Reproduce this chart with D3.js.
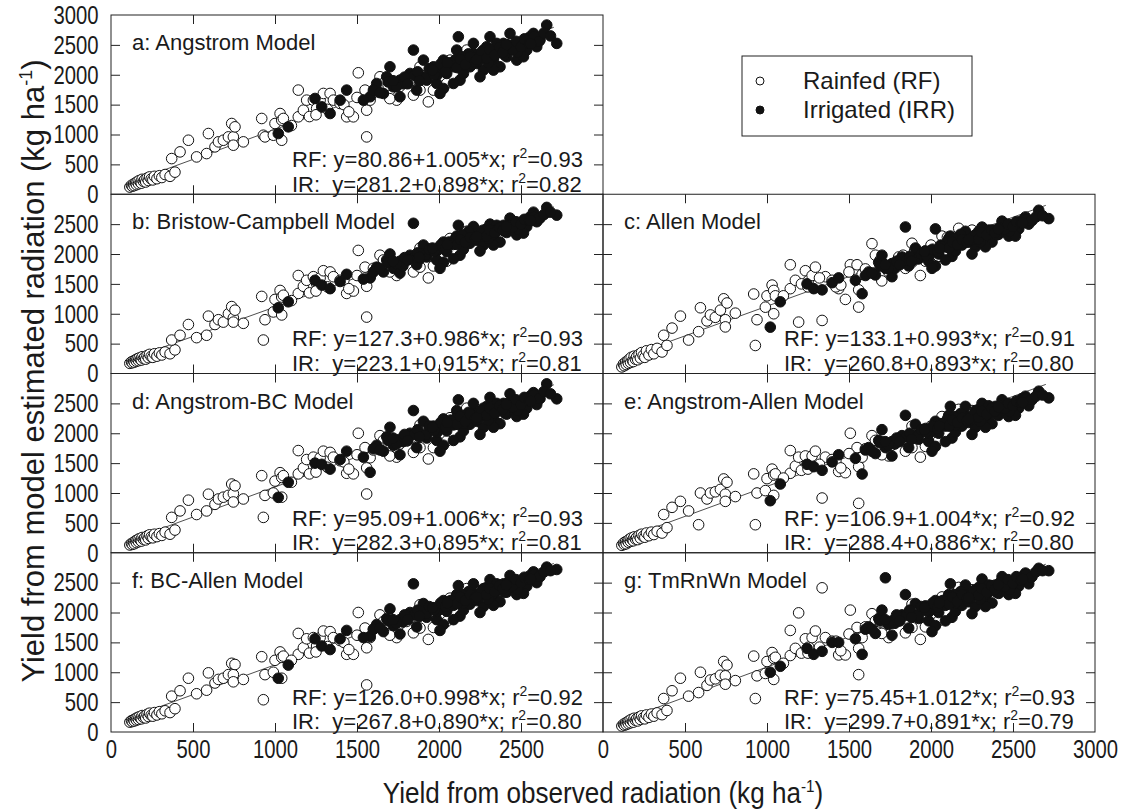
<!DOCTYPE html>
<html>
<head>
<meta charset="utf-8">
<script src="https://cdn.jsdelivr.net/npm/d3@7"></script>
<style>
body { margin: 0; background: #fff; }
text { font-family: "Liberation Sans", Arial, sans-serif; fill: #1a1a1a; }
</style>
</head>
<body>
<script>
// observed yields (x), the same for every model panel
var rfObs = [115,125,130,138,142,150,155,160,168,172,180,185,190,198,205,212,220,228,235,245,255,265,280,295,310,330,360,390,
  370,421,472,522,583,594,634,655,685,716,736,746,746,807,756,919,929,939,990,1000,1031,1041,1041,1051,1142,1142,1173,1193,1234,1254,
  1275,1295,1336,1356,1397,1437,1478,1508,1549,1559,1559,1580,1640,1661,1701,1742,1803,1844,1884,1935,1966,2047,1966,1884,2169,2067,
  1100,1210,1320,1420,1500,1600,1690,1760,1830,1900,2000,2100,2250,1700,1450,1250];
var irObs = [1020,1081,1244,1285,1336,1397,1437,1580,1620,1661,1681,1722,1762,1762,1823,1844,1864,1905,1925,1966,1986,2027,2027,2047,2088,
  2108,2118,2128,2149,2169,2189,2210,2230,2250,2271,2291,2311,2332,2352,2372,2393,2413,2433,2454,2474,2494,2535,2555,2576,2596,2657,2718,
  2006,1884,1701,1600,1539,2088,2210,2271,2352,2515,2616,2332,2250,1780,1850,1900,1950,2000,2060,2100,2150,2200,2240,2280,2320,2360,2400,
  2440,2480,2300,2180,1990,2140,
  1640,1690,1740,1790,1810,1870,1920,1940,1970,2010,2040,2070,2110,2130,2160,2190,2220,2260,2290,2310,2340,2370,2390,2420,2450,2470,2500,
  2520,2550,2580,2610,2640,2680,1720,1880,2050,2230,2410,2560,1960];

// model estimated yields (y), one pair of arrays per panel
var rfA = [120,150,135,170,145,190,160,210,175,230,200,185,250,215,240,205,270,230,290,255,240,300,260,310,280,330,300,370,
  597,709,904,625,681,1016,793,877,904,960,1184,960,821,877,1128,1268,988,960,988,1184,1351,1240,904,1268,1743,1296,1407,1575,1575,1435,
  1575,1687,1687,1575,1519,1296,1296,2033,1743,1407,960,1575,1966,1854,1743,1575,1854,1659,1743,1547,1743,1854,1966,2133,2413,2245,
  1150,1300,1420,1500,1620,1700,1820,1800,1900,1980,2080,2200,2350,1600,1380,1330];
var irA = [1016,1128,1603,1463,1351,1575,1743,1631,1854,1687,1966,1798,1910,1631,2022,2413,1743,2245,1910,2133,1854,1770,2245,2022,2133,
  2413,2636,1910,2022,2245,2133,2357,2189,2301,2078,2469,2636,2245,2357,2133,2525,2301,2692,2413,2245,2525,2413,2636,2692,2469,2832,2525,
  1687,1966,2133,1743,1575,1854,2525,2413,2525,2301,2581,2078,1966,1850,1990,1960,2100,2050,2180,2250,2150,2300,2230,2350,2290,2400,2330,
  2450,2380,2200,2350,2000,2300,
  1700,1880,1800,1960,1850,2050,1950,2100,2000,2180,2060,2200,2120,2260,2170,2300,2220,2380,2280,2420,2330,2460,2380,2500,2420,2560,2470,
  2600,2520,2640,2560,2700,2650,1900,1900,2200,2250,2500,2520,2080];

var rfB = [170,195,180,210,190,230,205,245,215,260,235,225,280,250,270,240,300,265,320,285,270,330,290,345,310,360,330,395,
  560,640,820,600,640,960,820,900,860,1000,1120,930,860,840,1060,1290,560,900,1030,1240,1390,1280,980,1310,1640,1340,1460,1560,1620,1500,
  1600,1720,1700,1620,1560,1340,1380,2060,1780,1460,944,1620,1980,1900,1780,1640,1900,1700,1780,1600,1800,1880,1980,2100,2380,2260,
  1220,1350,1450,1560,1640,1760,1860,1840,1960,2020,2100,2240,2380,1700,1420,1380];
var irB = [1100,1200,1560,1480,1420,1540,1660,1600,1780,1700,1900,1760,1880,1680,1980,2514,1820,2150,1950,2080,1900,1860,2200,2040,2160,
  2300,2480,1980,2080,2250,2180,2350,2230,2300,2150,2420,2500,2280,2380,2200,2480,2360,2600,2450,2320,2520,2460,2620,2700,2540,2780,2650,
  1760,1920,2000,1700,1580,1920,2460,2400,2480,2350,2600,2150,2050,1800,1940,2000,2080,2100,2200,2260,2200,2300,2280,2360,2320,2420,2380,
  2480,2420,2260,2380,2060,2320,
  1760,1860,1840,1940,1900,2020,1990,2080,2050,2150,2100,2180,2160,2240,2200,2280,2260,2340,2300,2400,2360,2440,2400,2480,2450,2540,2500,
  2580,2560,2620,2600,2660,2700,1880,1950,2160,2290,2460,2560,2100];

var rfC = [110,160,130,190,150,210,170,240,185,270,215,200,290,240,280,230,320,260,350,300,270,380,310,400,330,420,360,470,
  640,760,960,560,700,1100,880,980,940,1060,1250,900,780,1010,1180,1330,469,900,1110,1300,1480,1390,1000,1300,1820,1420,1560,860,1720,1560,
  1640,1780,888,1620,1560,1420,1240,1820,1820,1111,1400,1660,2173,1980,1860,1700,1950,1760,1860,1640,1880,1960,2050,2180,2430,2300,
  1300,1500,1600,1450,1700,1750,1900,1820,1980,2050,2150,2280,2400,1550,1480,1450];
var irC = [776,1200,1500,1420,1400,1520,1600,1335,1700,1650,1860,1760,1840,1620,1950,2452,1800,2100,1920,2050,1880,1800,2420,2000,2120,
  2260,2300,1960,2050,2200,2150,2300,2200,2280,2120,2380,2450,2250,2340,2200,2400,2330,2550,2420,2300,2480,2420,2560,2620,2500,2732,2592,
  1760,1880,1980,1640,1560,1900,2380,2320,2400,2300,2560,2120,2000,1760,1900,1940,2020,2060,2150,2200,2150,2250,2230,2310,2280,2360,2320,
  2420,2380,2200,2330,1980,2260,
  1680,1800,1760,1880,1820,1960,1920,2000,1980,2080,2040,2120,2100,2200,2160,2240,2200,2300,2250,2360,2320,2400,2360,2440,2420,2500,2460,
  2540,2520,2580,2560,2620,2640,1820,1880,2100,2240,2420,2520,2040];

var rfD = [130,155,140,175,150,200,170,215,185,235,210,195,255,225,245,215,280,240,300,265,250,310,270,320,290,345,310,380,
  592,700,880,640,700,980,810,900,930,960,1150,990,850,900,1120,1290,592,960,1000,1200,1340,1260,930,1290,1710,1320,1420,1560,1600,1450,
  1590,1700,1680,1600,1540,1330,1320,2000,1760,1420,983,1590,1960,1880,1760,1600,1870,1680,1760,1570,1760,1870,1980,2140,2420,2260,
  1180,1320,1430,1520,1640,1720,1840,1820,1920,2000,2100,2220,2360,1620,1400,1350];
var irD = [927,1180,1500,1480,1400,1560,1700,1346,1800,1700,1940,1800,1900,1640,2000,2380,1760,2200,1920,2120,1880,1800,2240,2040,2140,
  2380,2560,1940,2040,2240,2150,2350,2200,2300,2100,2450,2600,2260,2360,2160,2500,2320,2660,2420,2280,2520,2420,2620,2680,2480,2827,2576,
  1700,1960,2100,1740,1600,1880,2500,2420,2500,2320,2580,2100,1980,1860,1980,1970,2100,2060,2180,2240,2160,2300,2240,2340,2290,2400,2340,
  2440,2380,2220,2350,2020,2300,
  1720,1880,1820,1980,1880,2060,1980,2120,2040,2180,2100,2220,2150,2280,2200,2320,2250,2380,2300,2420,2340,2460,2400,2500,2440,2560,2480,
  2600,2540,2640,2580,2700,2660,1920,1940,2180,2260,2480,2540,2100];

var rfE = [125,160,140,185,150,200,175,225,190,245,215,200,265,230,255,220,290,245,310,275,260,330,285,345,305,360,330,420,
  640,760,860,700,469,1000,900,1000,1020,1060,1235,980,860,940,1180,1320,469,1000,1040,1240,1400,1300,960,1320,1710,1330,1450,1600,1620,1480,
  1620,1700,916,1600,1560,1360,1340,2000,1760,1440,827,1600,1960,1880,1760,1620,1880,1700,1760,1600,1780,1880,1980,2120,2400,2280,
  1250,1380,1480,1540,1660,1740,1860,1800,1940,2000,2120,2240,2380,1640,1420,1400];
var irE = [871,1150,1480,1440,1380,1520,1640,1318,1760,1660,1880,1760,1860,1620,1960,2300,1760,2150,1900,2080,1860,1780,2200,2000,2120,
  2300,2450,1920,2020,2200,2120,2300,2180,2260,2100,2400,2500,2240,2320,2160,2450,2300,2560,2400,2280,2480,2420,2580,2620,2460,2704,2592,
  1700,1920,2060,1720,1580,1860,2450,2380,2460,2300,2560,2100,1980,1820,1940,1960,2060,2040,2160,2220,2140,2280,2220,2320,2280,2380,2320,
  2420,2370,2200,2330,2000,2280,
  1700,1840,1800,1920,1860,2000,1960,2060,2020,2120,2080,2160,2120,2220,2180,2260,2220,2320,2270,2370,2320,2420,2370,2460,2420,2500,2460,
  2540,2510,2580,2560,2620,2640,1860,1900,2120,2240,2440,2520,2060];

var rfF = [165,190,175,205,185,225,200,240,210,255,230,220,275,245,265,235,295,260,315,280,265,325,285,340,305,355,325,390,
  600,690,900,640,700,990,820,880,900,960,1150,960,840,880,1130,1260,540,960,1000,1200,1340,1250,900,1270,1650,1300,1410,1560,1580,1440,
  1580,1690,1680,1580,1530,1300,1300,2000,1740,1410,788,1580,1960,1850,1740,1580,1850,1660,1740,1550,1750,1850,1960,2130,2400,2240,
  1200,1320,1430,1500,1620,1720,1820,1800,1920,1980,2080,2220,2360,1620,1380,1340];
var irF = [900,1120,1560,1440,1380,1560,1700,1600,1800,1680,1900,1780,1880,1640,2000,2480,1760,2150,1920,2080,1880,1800,2200,2020,2120,
  2300,2450,1940,2040,2220,2140,2320,2200,2280,2100,2420,2550,2260,2360,2180,2480,2340,2620,2420,2300,2520,2440,2620,2680,2500,2760,2720,
  1700,1940,2060,1720,1580,1880,2480,2400,2480,2320,2600,2120,2000,1840,1960,1960,2080,2060,2180,2240,2160,2300,2240,2340,2300,2400,2340,
  2440,2390,2220,2350,2020,2300,
  1740,1860,1820,1960,1880,2040,1980,2100,2040,2160,2100,2200,2150,2260,2200,2300,2250,2360,2300,2400,2350,2450,2400,2500,2450,2550,2500,
  2590,2550,2630,2600,2680,2700,1880,1940,2160,2260,2460,2560,2080];

var rfG = [100,130,115,150,125,170,140,190,155,210,180,165,230,195,220,185,250,210,270,235,220,285,245,300,265,320,290,360,
  560,690,900,600,660,1000,780,870,890,950,1180,940,800,860,1120,1270,560,940,980,1180,1330,1230,880,1250,1700,1280,1400,1994,1560,1420,
  1580,1690,2413,1580,1520,1290,1290,2040,1750,1400,960,1580,1980,1860,1750,1580,1860,1660,1750,1550,1760,1860,1980,2140,2420,2260,
  1150,1320,1420,1520,1640,1760,1840,1820,1940,2010,2100,2230,2380,1650,1360,1320];
var irG = [1000,1100,1400,1300,1350,1500,1500,1300,1760,1650,1900,2581,1860,1620,1960,2300,1740,2150,1900,2111,1860,1780,2200,2000,2120,
  2300,2480,1920,2020,2200,2120,2320,2180,2280,2100,2420,2560,2240,2340,2160,2460,2320,2600,2420,2300,2500,2440,2600,2660,2480,2740,2700,
  1680,1940,2040,1720,1560,1860,2460,2380,2460,2320,2600,2100,1980,1820,1960,1960,2060,2060,2180,2240,2160,2300,2240,2340,2290,2400,2340,
  2440,2380,2220,2350,2020,2300,
  1720,1860,1800,1960,1860,2040,1960,2100,2030,2160,2090,2200,2140,2260,2190,2300,2240,2360,2290,2400,2340,2450,2390,2500,2440,2550,2490,
  2600,2540,2640,2590,2680,2700,1880,1920,2160,2250,2460,2560,2080];

var modelNames = ["a: Angstrom Model", "b: Bristow-Campbell Model", "c: Allen Model", "d: Angstrom-BC Model",
  "e: Angstrom-Allen Model", "f: BC-Allen Model", "g: TmRnWn Model"];
var rfIntercept = [80.86, 127.3, 133.1, 95.09, 106.9, 126.0, 75.45];
var rfSlope = [1.005, 0.986, 0.993, 1.006, 1.004, 0.998, 1.012];
var rfR2 = ["0.93", "0.93", "0.91", "0.93", "0.92", "0.92", "0.93"];
var irIntercept = [281.2, 223.1, 260.8, 282.3, 288.4, 267.8, 299.7];
var irSlope = [0.898, 0.915, 0.893, 0.895, 0.886, 0.890, 0.891];
var irR2 = ["0.82", "0.81", "0.80", "0.81", "0.80", "0.80", "0.79"];
var rfSets = [rfA, rfB, rfC, rfD, rfE, rfF, rfG];
var irSets = [irA, irB, irC, irD, irE, irF, irG];
var ticks = [0, 500, 1000, 1500, 2000, 2500, 3000];

// panel grid: [column, row]
var grid = [[0,0],[0,1],[1,1],[0,2],[1,2],[0,3],[1,3]];
var left0 = 111, colW = 492, top0 = 15, rowH = 179.25;

var svg = d3.select("body").append("svg")
  .attr("width", 1125).attr("height", 810);

// tick numbers are tall and narrow in the original
function styleLabels(sel) {
  sel.select(".domain").remove();
  sel.selectAll("text").attr("font-family", null)
    .style("font-size", "26px").attr("transform", "scale(0.78,1)");
}

grid.forEach(function(pos, i) {
  var col = pos[0], row = pos[1];
  var x0 = left0 + col * colW, y0 = top0 + row * rowH;
  var x = d3.scaleLinear().domain([0, 3000]).range([x0, x0 + colW]);
  var y = d3.scaleLinear().domain([0, 3000]).range([y0 + rowH, y0]);
  var g = svg.append("g").attr("class", "panel");

  // inward ticks on all four sides
  var inner = [500, 1000, 1500, 2000, 2500];
  g.append("g").attr("transform", "translate(" + x0 + ",0)")
    .call(d3.axisLeft(y).tickValues(inner).tickSize(-9).tickFormat(""));
  g.append("g").attr("transform", "translate(" + (x0 + colW) + ",0)")
    .call(d3.axisRight(y).tickValues(inner).tickSize(-9).tickFormat(""));
  g.append("g").attr("transform", "translate(0," + y0 + ")")
    .call(d3.axisTop(x).tickValues(inner).tickSize(-9).tickFormat(""));
  g.append("g").attr("transform", "translate(0," + (y0 + rowH) + ")")
    .call(d3.axisBottom(x).tickValues(inner).tickSize(-9).tickFormat(""));
  g.selectAll(".domain").remove();
  g.selectAll(".tick line").attr("stroke", "#222").attr("stroke-width", 1);

  // tick labels only on the outer edges
  if (col == 0) {
    g.append("g").attr("transform", "translate(" + x0 + ",0)")
      .call(d3.axisLeft(y).tickValues(row == 0 ? ticks : ticks.slice(0, 6))
        .tickFormat(d3.format("d")).tickSize(0).tickPadding(16))
      .call(styleLabels);
  }
  if (row == 3) {
    g.append("g").attr("transform", "translate(0," + (y0 + rowH) + ")")
      .call(d3.axisBottom(x).tickValues(col == 0 ? ticks.slice(0, 6) : ticks)
        .tickFormat(d3.format("d")).tickSize(0).tickPadding(8))
      .call(styleLabels);
  }

  // fitted line for rainfed data
  g.append("line")
    .attr("x1", x(150)).attr("y1", y(rfIntercept[i] + rfSlope[i] * 150))
    .attr("x2", x(2700)).attr("y2", y(rfIntercept[i] + rfSlope[i] * 2700))
    .attr("stroke", "#222").attr("stroke-width", 0.8);

  g.append("g").selectAll("circle")
    .data(rfObs.map(function(d, k) { return [d, rfSets[i][k]]; }))
    .enter().append("circle")
    .attr("cx", function(d) { return x(d[0]); })
    .attr("cy", function(d) { return y(d[1]); })
    .attr("r", 5.3)
    .attr("fill", "#fff").attr("stroke", "#111").attr("stroke-width", 1);

  g.append("g").selectAll("circle")
    .data(irObs.map(function(d, k) { return [d, irSets[i][k]]; }))
    .enter().append("circle")
    .attr("cx", function(d) { return x(d[0]); })
    .attr("cy", function(d) { return y(d[1]); })
    .attr("r", 5.3)
    .attr("fill", "#111").attr("stroke", "#111").attr("stroke-width", 1);

  // frame
  g.append("rect").attr("x", x0).attr("y", y0).attr("width", colW).attr("height", rowH)
    .attr("fill", "none").attr("stroke", "#222").attr("stroke-width", 1);

  g.append("text").attr("x", x0 + 21).attr("y", y0 + 35)
    .style("font-size", "22px").text(modelNames[i]);

  var eqs = [["RF: ", "y=" + rfIntercept[i].toFixed(rfIntercept[i] < 100 ? 2 : 1) + "+" + rfSlope[i].toFixed(3) + "*x; r", rfR2[i]],
             ["IR:  ", "y=" + irIntercept[i].toFixed(1) + "+" + irSlope[i].toFixed(3) + "*x; r", irR2[i]]];
  eqs.forEach(function(e, k) {
    var t = g.append("text").attr("x", x0 + 181).attr("y", y0 + 152 + k * 24.5)
      .attr("xml:space", "preserve").style("font-size", "22px");
    t.append("tspan").text(e[0] + e[1]);
    t.append("tspan").attr("dy", -9).style("font-size", "14px").text("2");
    t.append("tspan").attr("dy", 9).text("=" + e[2]);
  });
});

// legend
var lg = svg.append("g");
lg.append("rect").attr("x", 742).attr("y", 56).attr("width", 230).attr("height", 80)
  .attr("fill", "#fff").attr("stroke", "#222").attr("stroke-width", 1);
lg.append("circle").attr("cx", 760).attr("cy", 81).attr("r", 4)
  .attr("fill", "#fff").attr("stroke", "#111");
lg.append("circle").attr("cx", 760).attr("cy", 110).attr("r", 4)
  .attr("fill", "#111").attr("stroke", "#111");
lg.append("text").attr("x", 803).attr("y", 89).style("font-size", "24px").text("Rainfed (RF)");
lg.append("text").attr("x", 803).attr("y", 118).style("font-size", "24px").text("Irrigated (IRR)");

// axis titles
var xt = svg.append("text").attr("transform", "translate(603,803) scale(0.9,1)")
  .attr("text-anchor", "middle").style("font-size", "29px");
xt.append("tspan").text("Yield from observed radiation (kg ha");
xt.append("tspan").attr("dy", -11).style("font-size", "17px").text("-1");
xt.append("tspan").attr("dy", 11).text(")");

var yt = svg.append("text").attr("transform", "translate(44,371) rotate(-90)")
  .attr("text-anchor", "middle").style("font-size", "31px");
yt.append("tspan").text("Yield from model estimated radiation (kg ha");
yt.append("tspan").attr("dy", -12).style("font-size", "18px").text("-1");
yt.append("tspan").attr("dy", 12).text(")");
</script>
</body>
</html>
